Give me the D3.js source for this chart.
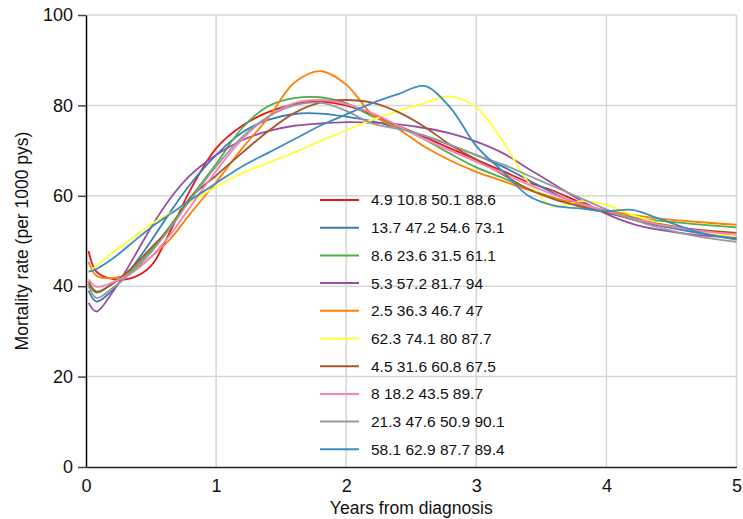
<!DOCTYPE html>
<html><head><meta charset="utf-8">
<script src="https://cdn.jsdelivr.net/npm/d3@7"></script>
<style>
body{margin:0;background:#fff}
svg{display:block;font-family:"Liberation Sans",Arial,Helvetica,sans-serif}
</style>
</head><body>
<svg id="chart" width="743" height="519"></svg>
<script>
// ---- data ----
const years = [0.02,0.08,0.2,0.35,0.5,0.65,0.8,1.0,1.2,1.4,1.6,1.8,2.0,2.2,2.4,2.6,2.8,3.0,3.2,3.4,3.6,3.8,4.0,4.2,4.4,4.7,5.0];

const s1 = [47.8,43.2,41.6,41.8,44.5,52.3,61.2,70.5,75.5,78.5,80.3,80.8,80.0,78.0,75.5,73.0,70.5,68.0,65.5,63.0,61.0,58.5,56.5,54.8,53.5,52.0,51.0];
const s2 = [39.0,36.6,39.0,44.0,50.0,56.5,62.5,69.0,74.0,76.8,78.1,78.2,77.5,76.5,75.0,73.3,71.2,69.0,66.5,63.5,60.5,58.0,56.3,55.0,53.5,51.8,50.5];
const s3 = [40.5,38.6,40.5,43.5,48.0,53.5,59.5,67.0,75.0,79.8,81.6,81.8,80.5,77.6,75.4,72.5,69.3,66.3,64.0,61.5,59.5,58.0,56.5,55.3,54.5,53.7,53.0];
const s4 = [36.3,34.4,38.5,45.5,53.0,59.5,64.5,69.0,72.3,74.3,75.5,76.0,76.3,76.2,75.8,75.0,73.8,72.0,69.5,66.0,62.5,59.0,56.0,53.8,52.5,51.3,50.8];
const s5 = [45.4,42.3,41.8,43.0,46.5,50.5,56.0,63.0,70.5,77.2,85.0,87.6,84.6,78.0,74.8,70.9,67.8,65.3,63.3,61.3,59.5,58.0,56.8,55.8,55.0,54.2,53.6];
const s6 = [43.0,44.5,47.3,50.5,53.7,56.2,58.5,62.0,65.0,67.3,69.6,72.1,74.5,76.8,78.8,80.5,82.0,79.5,72.3,63.0,57.6,58.8,58.0,55.8,54.0,52.2,51.0];
const s7 = [41.0,38.8,40.5,44.0,48.5,53.0,59.5,64.5,69.5,74.3,78.3,80.6,81.2,80.6,78.5,75.3,71.3,68.0,64.8,61.5,59.2,57.6,56.3,55.0,53.8,52.5,51.8];
const s8 = [41.5,39.9,40.8,43.0,46.5,51.5,57.5,65.5,72.5,77.5,80.5,81.2,80.3,78.3,75.5,72.5,70.0,67.5,65.0,62.5,60.2,58.3,56.6,55.0,53.7,52.3,51.5];
const s9 = [40.0,37.4,39.5,43.0,47.5,53.0,59.0,66.5,73.0,77.5,80.0,80.6,78.8,76.0,74.8,73.3,71.3,69.0,67.0,64.5,62.0,59.5,57.0,54.8,53.0,51.0,49.8];
const s10 = [43.2,43.8,46.0,49.5,53.0,56.0,59.0,62.8,66.5,69.5,72.5,75.5,78.0,80.5,82.5,84.3,79.5,71.0,65.5,60.0,57.8,57.2,56.6,56.9,55.0,52.0,50.3];

const seriesValues = [s1,s2,s3,s4,s5,s6,s7,s8,s9,s10];
const seriesLabels = ["4.9 10.8 50.1 88.6","13.7 47.2 54.6 73.1","8.6 23.6 31.5 61.1","5.3 57.2 81.7 94",
  "2.5 36.3 46.7 47","62.3 74.1 80 87.7","4.5 31.6 60.8 67.5","8 18.2 43.5 89.7","21.3 47.6 50.9 90.1","58.1 62.9 87.7 89.4"];
const seriesColors = ["#e41a1c","#377eb8","#4daf4a","#984ea3","#ff7f00","#ffff33","#a65628","#f781bf","#999999","#3a8dc4"];

const xTicks = [0,1,2,3,4,5];
const yTicks = [0,20,40,60,80,100];
const xTitle = "Years from diagnosis";
const yTitle = "Mortality rate (per 1000 pys)";

// ---- drawing ----
const svg = d3.select("#chart");
const x = d3.scaleLinear().domain([0,5]).range([86,736.5]);
const y = d3.scaleLinear().domain([0,100]).range([467,15]);

// grid
const grid = svg.append("g");
grid.selectAll("line.v").data(xTicks.filter(d=>d>0)).join("line")
  .attr("x1",d=>x(d)).attr("x2",d=>x(d)).attr("y1",y(0)).attr("y2",y(100))
  .attr("stroke","#d6d6d6").attr("stroke-width",1.5);
grid.selectAll("line.h").data(yTicks.filter(d=>d>0)).join("line")
  .attr("x1",x(0)).attr("x2",x(5)).attr("y1",d=>y(d)).attr("y2",d=>y(d))
  .attr("stroke","#d6d6d6").attr("stroke-width",1.5);

// lines
const line = d3.line().x(d=>x(d[0])).y(d=>y(d[1])).curve(d3.curveCatmullRom.alpha(0.5));
svg.append("g").selectAll("path").data(seriesValues).join("path")
  .attr("d",vals=>line(years.map((t,i)=>[t,vals[i]])))
  .attr("fill","none").attr("stroke",(d,i)=>seriesColors[i]).attr("stroke-width",1.8);

// axes
const yAxis = svg.append("g").attr("transform",`translate(${x(0)},0)`)
  .call(d3.axisLeft(y).tickValues(yTicks).tickFormat(d3.format("d")).tickSize(8).tickSizeOuter(0).tickPadding(5));
yAxis.select(".domain").attr("stroke","#000").attr("stroke-width",1.5);
yAxis.selectAll(".tick line").attr("stroke","#444").attr("stroke-width",1.5);
yAxis.selectAll("text").attr("font-size",18).attr("fill","#111");

const xAxis = svg.append("g").attr("transform",`translate(0,${y(0)})`)
  .call(d3.axisBottom(x).tickValues(xTicks).tickFormat(d3.format("d")).tickSize(0).tickSizeOuter(0).tickPadding(12));
xAxis.select(".domain").attr("stroke","#222").attr("stroke-width",1.5);
xAxis.selectAll("text").attr("font-size",18).attr("fill","#111");

svg.append("text").attr("x",(x(0)+x(5))/2).attr("y",514).attr("text-anchor","middle")
  .attr("font-size",17.5).attr("fill","#111").text(xTitle);
svg.append("text").attr("transform",`translate(22,${(y(0)+y(100))/2}) rotate(-90)`)
  .attr("dy","0.35em").attr("text-anchor","middle").attr("font-size",17.5).attr("fill","#111").text(yTitle);

// legend
const lg = svg.append("g").attr("transform","translate(320,200)");
const items = lg.selectAll("g").data(seriesLabels).join("g")
  .attr("transform",(d,i)=>`translate(0,${i*27.7})`);
items.append("line").attr("x1",0).attr("x2",39).attr("y1",0).attr("y2",0)
  .attr("stroke",(d,i)=>seriesColors[i]).attr("stroke-width",2);
items.append("text").attr("x",51).attr("y",0).attr("dy","0.35em")
  .attr("font-size",15.5).attr("fill","#111").text(d=>d);
</script>
</body></html>
